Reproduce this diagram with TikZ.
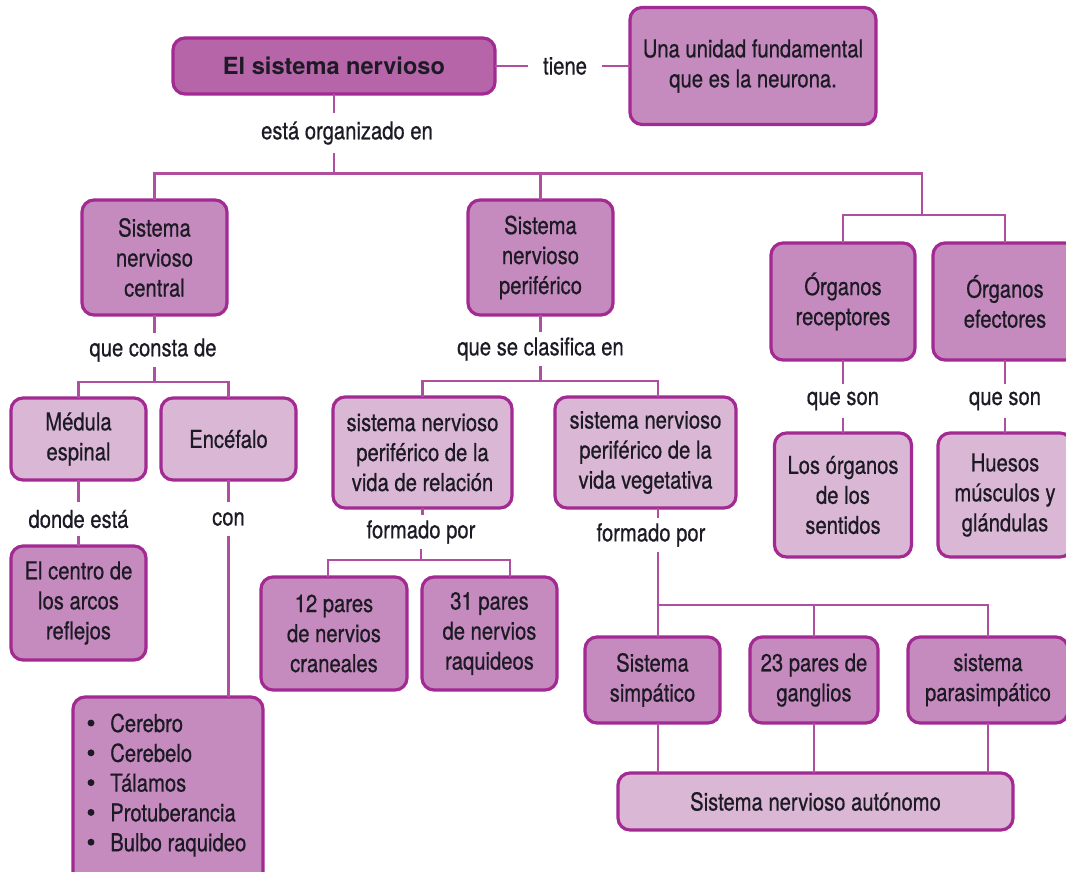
\documentclass[tikz,border=0pt]{standalone}
\usepackage{fontspec}
\setmainfont{TeX Gyre Heros}[FakeStretch=0.82, FakeBold=0.6]
\newfontfamily\headfont{TeX Gyre Heros}
\usepackage{xcolor}
\usetikzlibrary{positioning}

\definecolor{nvborder}{HTML}{A22A92}
\definecolor{nvmid}{HTML}{C68BBE}
\definecolor{nvlight}{HTML}{DBB7D6}
\definecolor{nvtitle}{HTML}{B565A8}
\definecolor{nvline}{HTML}{B04FA0}
\definecolor{nvtext}{HTML}{1C1A24}

\begin{document}
\begin{tikzpicture}[
    x=0.75pt, y=-0.75pt,
    state/.style = {rectangle, rounded corners=9pt, draw=nvborder, line width=2.4pt,
                    align=center, text=nvtext, inner sep=3pt, outer sep=0pt,
                    font=\fontsize{18.5}{22.5}\selectfont},
    dark/.style  = {state, fill=nvmid},
    pale/.style  = {state, fill=nvlight},
    topic/.style = {state, fill=nvtitle, font=\headfont\bfseries\fontsize{17.7}{21}\selectfont},
    verb/.style  = {rectangle, inner xsep=4pt, inner ysep=0pt, minimum height=25pt,
                    text=nvtext, font=\fontsize{18.5}{22.5}\selectfont},
    conn/.style  = {draw=nvline, line width=2pt}
  ]

  \clip (0,0) rectangle (1066,871);

  % ── Top: title + neuron ─────────────────────────────────────
  \node[topic, minimum width=241.5pt, minimum height=42pt] (sn) at (334,66) {El sistema nervioso};
  \node[verb, inner xsep=11pt] (tiene) at (565,66) {tiene};
  \node[dark, minimum width=184.5pt, minimum height=87.75pt] (neu) at (753,66) {Una unidad fundamental\\que es la neurona.};
  \node[verb, minimum height=30pt] (org) at (347,133) {está organizado en};

  % ── Row 1: main branches ────────────────────────────────────
  \node[dark, minimum width=108.75pt, minimum height=86.25pt] (snc) at (154.5,257.5) {Sistema\\nervioso\\central};
  \node[dark, minimum width=108.75pt, minimum height=86.25pt] (snp) at (540.5,257.5) {Sistema\\nervioso\\periférico};
  \node[dark, minimum width=108pt, minimum height=87.75pt]    (rec) at (843,301.5)   {Órganos\\receptores};
  \node[dark, minimum width=108pt, minimum height=87.75pt]    (efe) [right=13.5pt of rec] {Órganos\\efectores};
  \coordinate (sen) at (922,215);

  \node[verb] (consta) at (153,350)   {que consta de};
  \node[verb] (clasif) at (540.5,349) {que se clasifica en};
  \node[verb] (son1)   at (843,401)   {que son};
  \node[verb] (son2)   at (1005,401)  {que son};

  % ── Row 2 ───────────────────────────────────────────────────
  \node[pale, minimum width=101.25pt, minimum height=61.5pt] (med) at (78.5,439) {Médula\\espinal};
  \node[pale, minimum width=101.25pt, minimum height=61.5pt] (enc) [right=11.25pt of med] {Encéfalo};
  \node[pale, minimum width=134.25pt, minimum height=83.25pt] (rel) at (422.5,452.5) {sistema nervioso\\periférico de la\\vida de relación};
  \node[pale, minimum width=135.75pt, minimum height=83.25pt] (veg) [right=32.25pt of rel] {sistema nervioso\\periférico de la\\vida vegetativa};
  \node[pale, minimum width=102.75pt, minimum height=93pt] (sent) at (843,495)  {Los órganos\\de los\\sentidos};
  \node[pale, minimum width=100.5pt, minimum height=93pt]  (hue)  at (1005,495) {Huesos\\músculos y\\glándulas};

  \node[verb] (donde) at (78.5,519)  {donde está};
  \node[verb] (con)   at (228.5,519) {con};
  \node[verb] (form1) at (421,532)   {formado por};
  \node[verb] (form2) at (651,535)   {formado por};
  \coordinate (vx) at (658,535);

  % ── Row 3 ───────────────────────────────────────────────────
  \node[dark, minimum width=101.25pt, minimum height=85.5pt] (centro) [below=49.5pt of med] {El centro de\\los arcos\\reflejos};
  \node[dark, minimum width=109.5pt, minimum height=84.75pt] (p12) at (334,633.5) {12 pares\\de nervios\\craneales};
  \node[dark, minimum width=101.25pt, minimum height=84.75pt] (p31) [right=11.25pt of p12] {31 pares\\de nervios\\raquideos};
  \node[dark, minimum width=101.25pt, minimum height=64.5pt] (simp) at (652.5,680) {Sistema\\simpático};
  \node[dark, minimum width=96pt, minimum height=64.5pt]     (gang) [right=22.5pt of simp] {23 pares de\\ganglios};
  \node[dark, minimum width=120pt, minimum height=64.5pt]    (para) [right=22.5pt of gang] {sistema\\parasimpático};
  \node[pale, minimum width=296.25pt, minimum height=42.75pt] (sna) at (815.5,801.5) {Sistema nervioso autónomo};

  % ── Brain parts list ────────────────────────────────────────
  \node[dark, anchor=north west, minimum width=142.5pt, minimum height=141pt] (lst) at (73,697) {};
  \foreach \entry [count=\i from 0] in {Cerebro, Cerebelo, Tálamos, Protuberancia, Bulbo raquideo} {
    \fill[nvtext] (91,723+29.8*\i) circle (2.6pt);
    \node[verb, anchor=base west, inner sep=0pt, minimum height=0pt] (it\i) at (110,732+29.8*\i) {\entry};
  }

  % ── Connectors ──────────────────────────────────────────────
  \draw[conn] (sn) -- (tiene);
  \draw[conn] (tiene) -- (neu);
  \draw[conn] (sn) -- (sn |- org.north);
  \draw[conn] (sn |- org.south) -- ++(0,20) -| (snc);
  \draw[conn] (sn |- org.south) -- ++(0,20) -| (snp);
  \draw[conn] (sn |- org.south) -- ++(0,20) -| (sen);
  \draw[conn] (sen) -| (rec);
  \draw[conn] (sen) -| (efe);

  % central
  \draw[conn] (snc) -- (snc |- consta.north);
  \draw[conn] (snc |- consta.south) -- ++(0,15) -| (med);
  \draw[conn] (snc |- consta.south) -- ++(0,15) -| (enc);
  \draw[conn] (med) -- (donde);
  \draw[conn] (donde) -- (centro);
  \draw[conn] (enc) -- (con);
  \draw[conn] (con) -- (con |- lst.north);

  % peripheral
  \draw[conn] (snp) -- (clasif);
  \draw[conn] (clasif.south) -- ++(0,15) -| (rel);
  \draw[conn] (clasif.south) -- ++(0,15) -| (vx |- veg.north);
  \draw[conn] (rel) -- (rel |- form1.north);
  \draw[conn] (form1.south) -- ++(0,11) -| ([xshift=-4.5pt]p12.north);
  \draw[conn] (form1.south) -- ++(0,11) -| ([xshift=15.4pt]p31.north);
  \draw[conn] (vx |- veg.south) -- (vx |- form2.north);
  \draw[conn] (vx |- form2.south) -- (vx |- simp.north);
  \draw[conn] (vx |- form2.south) -- ++(0,53) -| (gang);
  \draw[conn] (vx |- form2.south) -- ++(0,53) -| (para);
  \draw[conn] (vx |- simp.south) -- (vx |- sna.north);
  \draw[conn] (gang) -- (gang |- sna.north);
  \draw[conn] (para) -- (para |- sna.north);

  % organs
  \draw[conn] (rec) -- (son1);
  \draw[conn] (son1) -- (sent);
  \draw[conn] (efe) -- (son2);
  \draw[conn] (son2) -- (hue);

\end{tikzpicture}
\end{document}
